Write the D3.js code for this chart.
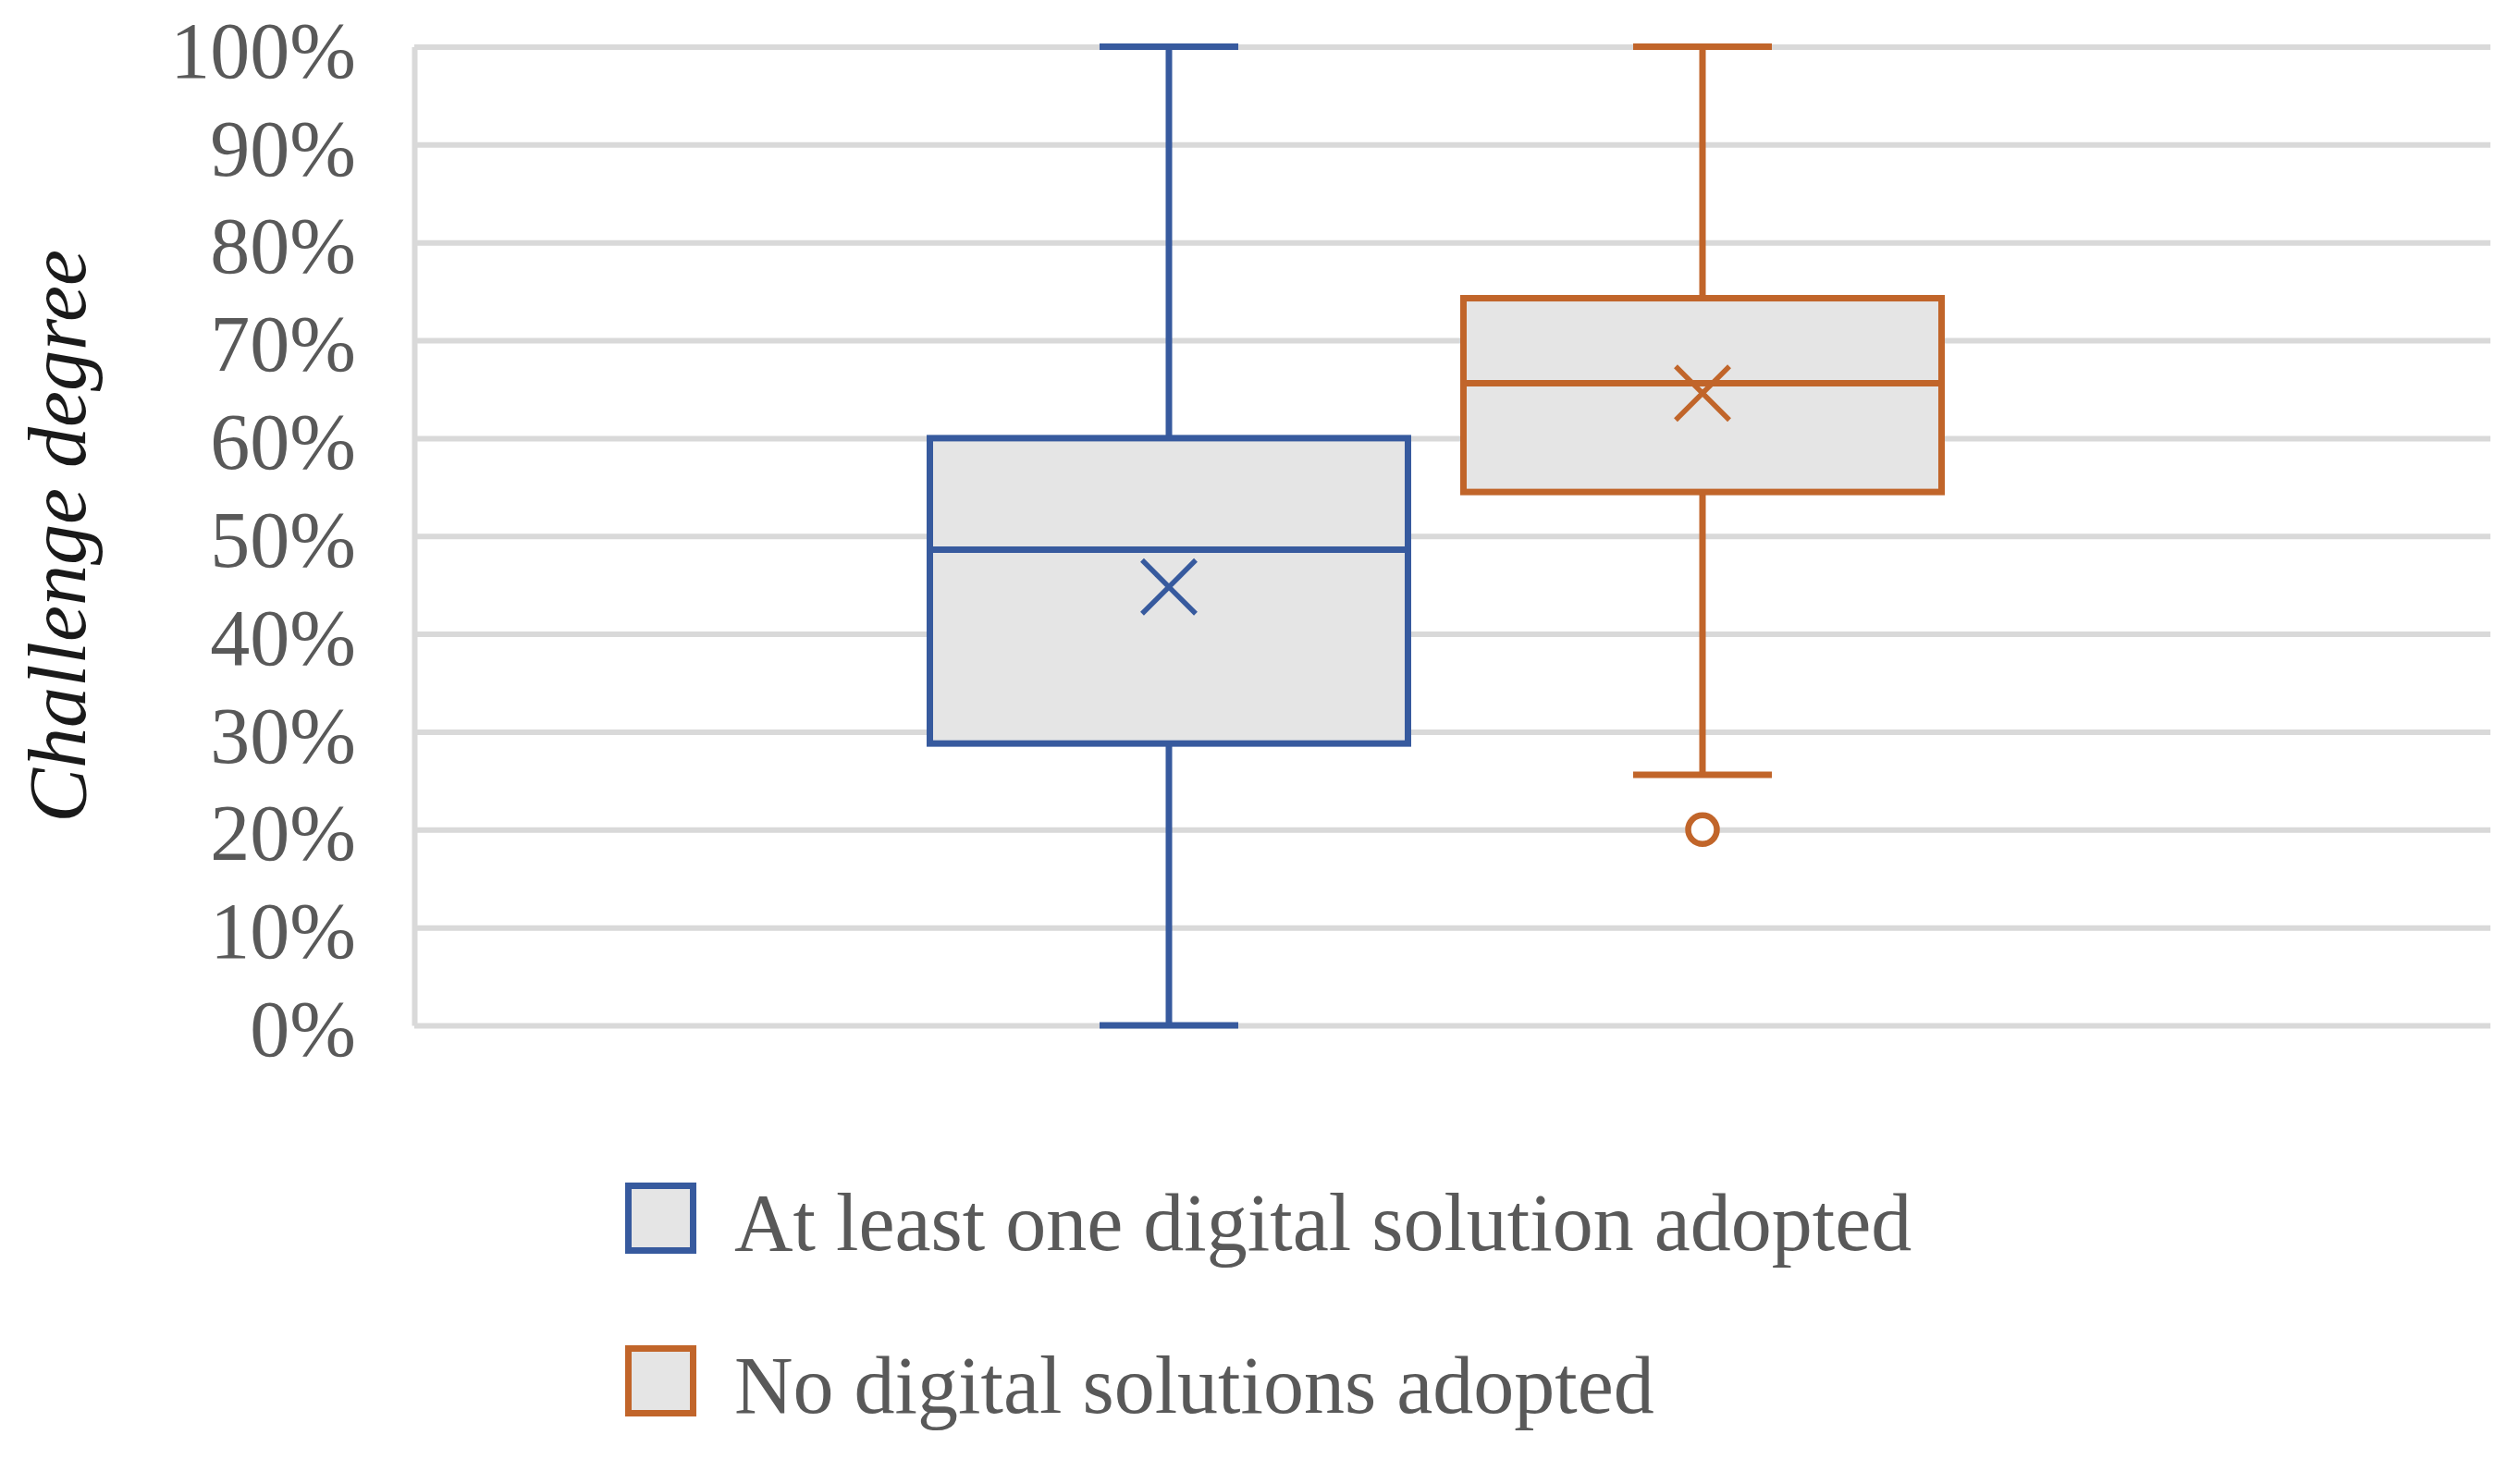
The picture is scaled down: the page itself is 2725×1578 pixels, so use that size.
<!DOCTYPE html>
<html>
<head>
<meta charset="utf-8">
<script src="https://cdn.jsdelivr.net/npm/d3@7"></script>
<style>
  html, body { margin: 0; padding: 0; background: #ffffff; }
  svg { display: block; }
</style>
</head>
<body>
<div id="chart"></div>
<script>
// data
const seriesNames = ["At least one digital solution adopted", "No digital solutions adopted"];
const seriesColors = ["#375a9e", "#c1652a"];
const mins = [0.0, 0.256];
const q1s = [0.288, 0.545];
const medians = [0.486, 0.656];
const q3s = [0.600, 0.743];
const maxs = [1.0, 1.0];
const means = [0.448, 0.646];
const outliers = [[], [0.20]];
const yTicks = [0, 0.1, 0.2, 0.3, 0.4, 0.5, 0.6, 0.7, 0.8, 0.9, 1.0];
const yTitle = "Challenge degree";

const W = 2725, H = 1578;
const margin = { top: 50.5, left: 448, right: 32, bottom: 469 };
const width = W - margin.left - margin.right,
      height = H - margin.top - margin.bottom;

const font = "'Liberation Serif', 'Times New Roman', serif";
const grid = "#d9d9d9";
const boxFill = "#e5e5e5";

const svg = d3.select("#chart")
  .append("svg")
  .attr("width", W)
  .attr("height", H);

const g = svg.append("g")
  .attr("transform", `translate(${margin.left},${margin.top})`);

const y = d3.scaleLinear()
  .domain([0, 1])
  .range([height, 0]);

const x = d3.scaleBand()
  .domain(seriesNames)
  .range([527.5, 1681.5])
  .paddingInner(0.104)
  .paddingOuter(0.052);

// gridlines + y axis
const yAxis = g.append("g")
  .call(d3.axisLeft(y)
    .tickValues(yTicks)
    .tickSize(-width)
    .tickSizeOuter(0)
    .tickPadding(63)
    .tickFormat(d3.format(".0%")));

yAxis.select(".domain")
  .attr("stroke", grid)
  .attr("stroke-width", 6);
yAxis.selectAll(".tick line")
  .attr("stroke", grid)
  .attr("stroke-width", 6);
yAxis.selectAll(".tick text")
  .attr("fill", "#595959")
  .attr("dy", "0.38em")
  .style("font-family", font)
  .style("font-size", "86px");

// y title
g.append("text")
  .attr("transform", `translate(${92 - margin.left},${height / 2}) rotate(-90)`)
  .attr("text-anchor", "middle")
  .style("font-family", font)
  .style("font-style", "italic")
  .style("font-size", "88px")
  .attr("fill", "#1a1a1a")
  .text(yTitle);

// boxes
const boxData = seriesNames.map((name, i) => ({
  name, color: seriesColors[i],
  min: mins[i], q1: q1s[i], median: medians[i], q3: q3s[i], max: maxs[i],
  mean: means[i], outliers: outliers[i]
}));

const capHalf = 75;
const sw = 7;

const box = g.selectAll("g.box")
  .data(boxData)
  .join("g")
  .attr("class", "box")
  .attr("transform", d => `translate(${x(d.name) + x.bandwidth() / 2},0)`);

// whisker stems
box.append("line")
  .attr("y1", d => y(d.max)).attr("y2", d => y(d.min))
  .attr("stroke", d => d.color).attr("stroke-width", sw);

// caps
box.selectAll("line.cap")
  .data(d => [d.min, d.max].map(v => ({ v, color: d.color })))
  .join("line")
  .attr("class", "cap")
  .attr("x1", -capHalf).attr("x2", capHalf)
  .attr("y1", d => y(d.v)).attr("y2", d => y(d.v))
  .attr("stroke", d => d.color).attr("stroke-width", sw);

// box
box.append("rect")
  .attr("x", -x.bandwidth() / 2)
  .attr("width", x.bandwidth())
  .attr("y", d => y(d.q3))
  .attr("height", d => y(d.q1) - y(d.q3))
  .attr("fill", boxFill)
  .attr("stroke", d => d.color)
  .attr("stroke-width", sw);

// median
box.append("line")
  .attr("x1", -x.bandwidth() / 2).attr("x2", x.bandwidth() / 2)
  .attr("y1", d => y(d.median)).attr("y2", d => y(d.median))
  .attr("stroke", d => d.color).attr("stroke-width", sw);

// mean marker
box.append("path")
  .attr("transform", d => `translate(0,${y(d.mean)})`)
  .attr("d", "M-29,-29L29,29M-29,29L29,-29")
  .attr("fill", "none")
  .attr("stroke", d => d.color)
  .attr("stroke-width", 5.5);

// outliers
box.selectAll("circle")
  .data(d => d.outliers.map(v => ({ v, color: d.color })))
  .join("circle")
  .attr("cy", d => y(d.v))
  .attr("r", 15.5)
  .attr("fill", "#ffffff")
  .attr("stroke", d => d.color)
  .attr("stroke-width", 6.5);

// legend
const legend = svg.selectAll(".legend")
  .data(boxData)
  .join("g")
  .attr("class", "legend")
  .attr("transform", (d, i) => `translate(679.5,${1282.5 + i * 176})`);

legend.append("rect")
  .attr("width", 70)
  .attr("height", 70)
  .attr("fill", boxFill)
  .attr("stroke", d => d.color)
  .attr("stroke-width", sw);

legend.append("text")
  .attr("x", 114.5)
  .attr("y", 69.5)
  .attr("fill", "#595959")
  .style("font-family", font)
  .style("font-size", "88px")
  .text(d => d.name);
</script>
</body>
</html>
